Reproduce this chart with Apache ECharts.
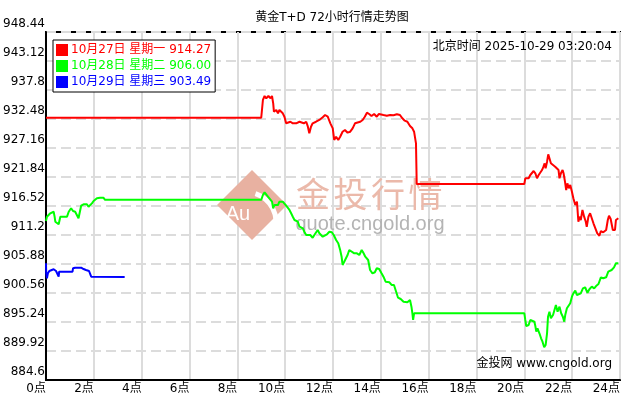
<!DOCTYPE html>
<html><head><meta charset="utf-8">
<script src="https://cdn.jsdelivr.net/npm/echarts@6/dist/echarts.min.js"></script>
<style>html,body{margin:0;padding:0;background:#fff}#c{width:630px;height:400px}</style>
</head><body><div id="c"></div>
<script>
const titleText = '黄金T+D 72小时行情走势图';
const timeText = '北京时间 2025-10-29 03:20:04';
const siteText = '金投网 www.cngold.org';
const seriesNames = ['10月27日 星期一', '10月28日 星期二', '10月29日 星期三'];
const seriesColors = ['#ff0000', '#00ff00', '#0000ff'];
const yMin = 884.6, yMax = 948.44, yStep = 5.32;
const xMin = 0, xMax = 24, xStep = 2;

const day27 = [[0,932.72],[9.00,932.72],[9.07,935.97],[9.14,936.70],[9.21,936.28],[9.30,936.70],[9.39,936.28],[9.45,936.70],[9.50,935.36],[9.53,933.82],[9.63,934.13],[9.70,933.52],[9.76,934.13],[9.90,933.52],[9.97,932.90],[10.04,931.69],[10.11,931.38],[10.22,931.98],[10.32,931.69],[10.46,931.69],[10.60,931.98],[10.67,932.30],[10.78,931.69],[10.88,931.98],[10.95,931.07],[11.01,929.86],[11.08,931.07],[11.15,931.69],[11.22,931.38],[11.29,931.98],[11.43,932.30],[11.57,932.79],[11.67,933.21],[11.78,932.90],[11.89,931.69],[11.99,930.77],[12.05,928.63],[12.13,929.23],[12.22,928.63],[12.30,929.23],[12.40,930.15],[12.50,930.46],[12.61,929.97],[12.72,930.15],[12.82,930.77],[12.92,931.69],[13.00,931.98],[13.14,931.98],[13.24,932.30],[13.33,932.90],[13.42,933.64],[13.51,933.40],[13.61,933.03],[13.72,933.40],[13.83,932.90],[13.92,933.40],[14.00,933.16],[14.11,933.21],[14.25,933.08],[14.39,933.21],[14.53,933.16],[14.67,933.34],[14.80,933.21],[14.90,932.61],[15.00,932.17],[15.11,931.98],[15.22,931.20],[15.32,930.77],[15.39,930.15],[15.45,929.86],[15.47,928.02],[15.50,920.56],[20.00,920.56],[20.04,921.60],[20.11,921.89],[20.18,921.60],[20.25,922.21],[20.32,922.52],[20.39,922.94],[20.46,922.52],[20.53,921.60],[20.60,922.21],[20.67,922.52],[20.74,923.12],[20.80,923.73],[20.85,924.35],[20.89,923.44],[20.95,924.65],[21.00,926.00],[21.05,925.27],[21.11,924.35],[21.20,924.04],[21.29,923.73],[21.36,924.04],[21.43,923.12],[21.47,921.60],[21.53,922.52],[21.60,923.12],[21.64,922.52],[21.70,920.98],[21.75,919.45],[21.80,920.68],[21.86,919.77],[21.92,920.37],[21.99,919.14],[22.05,917.93],[22.13,916.70],[22.20,917.31],[22.26,913.64],[22.30,914.56],[22.36,913.95],[22.43,915.79],[22.50,914.56],[22.57,913.64],[22.61,912.72],[22.68,914.56],[22.75,915.18],[22.82,914.87],[22.89,913.35],[22.97,913.03],[23.05,911.51],[23.14,911.07],[23.20,911.93],[23.30,911.70],[23.42,912.12],[23.49,913.95],[23.54,914.74],[23.61,914.13],[23.70,912.12],[23.79,912.12],[23.83,913.95],[23.93,914.27]];

const day28 = [[0,913.77],[0.04,914.56],[0.11,914.26],[0.18,915.18],[0.25,914.87],[0.32,915.47],[0.36,914.56],[0.39,913.64],[0.46,913.35],[0.53,913.16],[0.60,914.56],[0.74,914.56],[0.88,914.56],[0.95,915.47],[1.05,916.10],[1.13,915.60],[1.22,915.47],[1.29,914.87],[1.36,914.26],[1.43,914.26],[1.47,916.58],[1.57,916.83],[1.71,916.83],[1.78,916.39],[1.85,916.58],[1.92,917.01],[1.99,917.44],[2.05,917.62],[2.13,917.93],[2.26,918.04],[2.40,918.04],[2.47,917.65],[9.00,917.65],[9.07,918.54],[9.14,919.03],[9.21,918.67],[9.28,918.23],[9.35,917.93],[9.45,917.31],[9.50,916.10],[9.55,916.70],[9.63,917.02],[9.70,916.70],[9.76,917.31],[9.83,917.62],[9.90,917.31],[9.97,917.02],[10.04,916.57],[10.11,916.39],[10.18,915.79],[10.25,915.18],[10.32,914.56],[10.39,913.95],[10.46,914.26],[10.53,913.64],[10.60,912.72],[10.67,912.43],[10.74,912.43],[10.80,911.80],[10.88,911.20],[10.95,910.89],[11.05,911.20],[11.15,910.70],[11.22,911.20],[11.29,911.51],[11.36,912.12],[11.43,911.51],[11.50,911.20],[11.57,910.89],[11.64,911.20],[11.75,911.33],[11.85,911.80],[11.95,911.70],[12.03,911.20],[12.13,910.28],[12.22,909.68],[12.30,908.45],[12.36,907.22],[12.40,905.70],[12.47,906.30],[12.54,906.61],[12.61,907.53],[12.68,908.45],[12.75,908.14],[12.89,907.84],[13.00,907.84],[13.10,907.53],[13.20,908.45],[13.28,907.84],[13.35,907.22],[13.42,907.53],[13.47,906.61],[13.55,904.78],[13.65,904.17],[13.75,904.36],[13.83,905.09],[13.93,904.96],[14.03,904.17],[14.11,903.55],[14.20,902.63],[14.28,902.76],[14.36,902.52],[14.45,902.03],[14.55,902.03],[14.64,900.80],[14.72,899.70],[14.83,899.46],[14.95,898.96],[15.00,898.67],[15.11,898.85],[15.22,899.27],[15.28,898.05],[15.32,896.84],[15.35,895.61],[15.39,896.84],[15.46,896.84],[20.00,896.84],[20.04,895.61],[20.08,894.51],[20.18,894.69],[20.25,895.61],[20.32,895.92],[20.42,895.29],[20.46,894.51],[20.50,893.46],[20.55,894.08],[20.63,893.17],[20.70,892.25],[20.76,891.63],[20.83,890.60],[20.89,891.02],[20.95,893.17],[20.99,896.21],[21.05,897.13],[21.11,895.92],[21.20,896.52],[21.26,897.44],[21.32,898.36],[21.39,897.13],[21.47,898.05],[21.54,896.84],[21.61,896.21],[21.67,895.29],[21.71,896.52],[21.78,897.75],[21.85,898.05],[21.92,898.67],[21.99,899.88],[22.05,900.50],[22.13,900.98],[22.20,900.19],[22.26,900.50],[22.36,900.50],[22.45,901.42],[22.54,901.61],[22.64,900.61],[22.72,901.24],[22.82,901.72],[22.92,901.42],[23.00,901.84],[23.10,902.21],[23.20,903.44],[23.30,903.26],[23.42,903.44],[23.51,904.47],[23.58,904.17],[23.65,904.78],[23.75,905.27],[23.83,906.01],[23.93,906.00]];

const day29 = [[0,906.01],[0.01,904.17],[0.04,903.26],[0.08,904.17],[0.14,904.60],[0.22,904.78],[0.32,904.91],[0.42,904.60],[0.50,904.47],[0.53,903.55],[0.55,904.47],[0.88,904.47],[1.11,904.47],[1.13,905.09],[1.22,905.20],[1.47,905.20],[1.57,904.96],[1.67,904.78],[1.75,904.96],[1.80,904.60],[1.86,904.78],[1.89,903.55],[1.92,903.49],[3.29,903.49]];

const allDays = [day27, day28, day29];
const FONT = '"DejaVu Sans", "Noto Sans CJK SC", sans-serif';
const chart = echarts.init(document.getElementById('c'), null, {renderer: 'canvas'});

const lastVal = {};
seriesNames.forEach((n, i) => { const d = allDays[i]; lastVal[n] = d[d.length - 1][1].toFixed(2); });

const wmColor = '#ebb9aa';
const graphics = [
  {type: 'polygon', z: 1, shape: {points: [[252, 170], [287, 205], [252, 240], [217, 205]]}, style: {fill: '#e8b1a1'}},
  {type: 'arc', z: 1, shape: {cx: 246, cy: 222, r: 30, startAngle: -1.25, endAngle: 0.55}, style: {stroke: '#fff', lineWidth: 5, fill: null}},
  {type: 'text', z: 1, x: 238, y: 214, style: {text: 'Au', fill: '#fff', font: '20px "Liberation Sans", Arial, sans-serif', textAlign: 'center', textVerticalAlign: 'middle'}},
  {type: 'text', z: 1, x: 370, y: 224, style: {text: 'quote.cngold.org', fill: '#b4b4b4', font: '20px "Liberation Sans", Arial, sans-serif', textAlign: 'center', textVerticalAlign: 'middle'}},
  {type: 'text', z: 5, x: 332, y: 18, style: {text: titleText, fill: '#000', font: '12px ' + FONT, textAlign: 'center', textVerticalAlign: 'middle'}},
  {type: 'text', z: 5, x: 612, y: 47, style: {text: timeText, fill: '#000', font: '12px ' + FONT, textAlign: 'right', textVerticalAlign: 'middle'}},
  {type: 'text', z: 5, x: 612, y: 364, style: {text: siteText, fill: '#000', font: '12px ' + FONT, textAlign: 'right', textVerticalAlign: 'middle'}}
];
const wmChars = ['金', '投', '行', '情'];
wmChars.forEach((ch, i) => {
  graphics.push({type: 'text', z: 1, x: 313 + i * 37.5, y: 194, style: {text: ch, fill: wmColor, font: '34px "Noto Sans CJK SC", sans-serif', textAlign: 'center', textVerticalAlign: 'middle'}});
});

chart.setOption({
  animation: false,
  backgroundColor: '#fff',
  grid: {left: 44, right: 10, top: 32, bottom: 20, show: true, borderColor: '#000', borderWidth: 2, backgroundColor: 'transparent'},
  legend: {
    left: 53, top: 40, orient: 'vertical', itemWidth: 12, itemHeight: 12, itemGap: 4,
    padding: [4, 4, 4, 3], borderColor: '#000', borderWidth: 1, backgroundColor: '#fff',
    selectedMode: false, z: 6,
    data: seriesNames.map((n, i) => ({name: n, icon: 'rect', textStyle: {color: seriesColors[i]}})),
    formatter: n => n + ' ' + lastVal[n],
    textStyle: {fontSize: 12, fontFamily: FONT, lineHeight: 12, padding: [0, 0, 0, -2]}
  },
  xAxis: {
    type: 'value', min: xMin, max: xMax, interval: xStep,
    axisLine: {show: true, lineStyle: {color: '#000', width: 2}},
    axisTick: {show: false},
    axisLabel: {align: 'right', margin: 3, color: '#000', fontSize: 12, fontFamily: FONT, formatter: v => v + '点', showMinLabel: true, showMaxLabel: true},
    splitLine: {show: true, lineStyle: {color: '#dcdcdc', width: 2, type: 'solid'}}
  },
  yAxis: {
    type: 'value', min: yMin, max: yMax, interval: yStep,
    axisLine: {show: true, lineStyle: {color: '#000', width: 2}},
    axisTick: {show: false},
    axisLabel: {margin: 1, color: '#000', fontSize: 12, fontFamily: FONT, verticalAlign: 'bottom', lineHeight: 16, formatter: v => String(+v.toFixed(2)), showMinLabel: true, showMaxLabel: true},
    splitLine: {show: true, lineStyle: {color: '#dcdcdc', width: 2, type: [10, 5]}}
  },
  graphic: graphics,
  series: seriesNames.map((n, i) => ({
    name: n, type: 'line', data: allDays[i], color: seriesColors[i],
    showSymbol: false, symbol: 'none', z: 3,
    lineStyle: {width: 2, color: seriesColors[i]}
  }))
});
</script></body></html>
